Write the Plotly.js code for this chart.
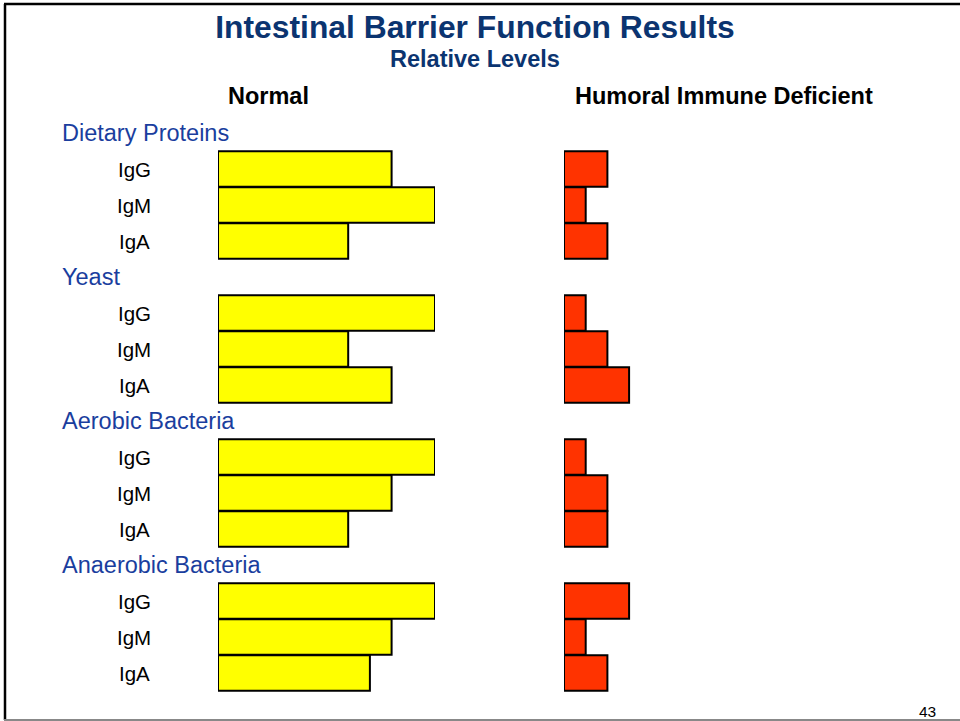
<!DOCTYPE html>
<html>
<head>
<meta charset="utf-8">
<script src="https://cdn.plot.ly/plotly-3.0.1.min.js"></script>
<style>html,body{margin:0;padding:0;background:#fff;}#chart{width:960px;height:721px;}</style>
</head>
<body>
<div id="chart"></div>
<script>
// ---- data ----
const groups = ['Dietary Proteins', 'Yeast', 'Aerobic Bacteria', 'Anaerobic Bacteria'];
const isotypes = ['IgG', 'IgM', 'IgA'];
const normalDietary = [4, 5, 3];
const normalYeast = [5, 3, 4];
const normalAerobic = [5, 4, 3];
const normalAnaerobic = [5, 4, 3.5];
const deficientDietary = [1, 0.5, 1];
const deficientYeast = [0.5, 1, 1.5];
const deficientAerobic = [0.5, 1, 1];
const deficientAnaerobic = [1.5, 0.5, 1];
const columnTitles = ['Normal', 'Humoral Immune Deficient'];
const chartTitle = 'Intestinal Barrier Function Results';
const chartSubtitle = 'Relative Levels';
const pageNumber = '43';

const normalByGroup = [normalDietary, normalYeast, normalAerobic, normalAnaerobic];
const deficientByGroup = [deficientDietary, deficientYeast, deficientAerobic, deficientAnaerobic];

// ---- layout helpers ----
const W = 960, H = 721;
const rowPx = 36;          // pixels per row
const row0Px = 133;        // pixel centre of first row (group label)
const unitPx = 43.4;       // pixels per relative-level unit
const leftA = 218, leftB = 564;
const FONT = 'Arial, "Liberation Sans", sans-serif';
const py = p => 1 - p / H; // pixel -> paper y

const rowPos = (g, i) => g * 4 + i + 1;

const yN = [], xN = [], yD = [], xD = [], names = [];
groups.forEach((g, gi) => {
  isotypes.forEach((iso, ii) => {
    yN.push(rowPos(gi, ii)); xN.push(normalByGroup[gi][ii]);
    yD.push(rowPos(gi, ii)); xD.push(deficientByGroup[gi][ii]);
    names.push(g + ' ' + iso);
  });
});

const traces = [
  {type: 'bar', orientation: 'h', x: xN, y: yN, width: 0.98, xaxis: 'x', yaxis: 'y',
   marker: {color: '#FFFF00', line: {color: '#000', width: 2}}, cliponaxis: false,
   text: names, hoverinfo: 'text+x', textposition: 'none', showlegend: false},
  {type: 'bar', orientation: 'h', x: xD, y: yD, width: 0.98, xaxis: 'x2', yaxis: 'y',
   marker: {color: '#FF3300', line: {color: '#000', width: 2}}, cliponaxis: false,
   text: names, hoverinfo: 'text+x', textposition: 'none', showlegend: false}
];

const annotations = [];
groups.forEach((g, gi) => {
  annotations.push({text: g, xref: 'paper', yref: 'y', x: 60 / W, y: gi * 4,
    xanchor: 'left', yanchor: 'middle', showarrow: false,
    font: {family: FONT, size: 23.5, color: '#1A3E9E'}});
  isotypes.forEach((iso, ii) => {
    annotations.push({text: iso, xref: 'paper', yref: 'y', x: 134 / W, y: rowPos(gi, ii),
      xanchor: 'center', yanchor: 'middle', showarrow: false,
      font: {family: FONT, size: 20.5, color: '#000'}});
  });
});
annotations.push({text: '<b>' + chartSubtitle + '</b>', xref: 'paper', yref: 'paper',
  x: 475 / W, y: py(59), xanchor: 'center', yanchor: 'middle', showarrow: false,
  font: {family: FONT, size: 23.5, color: '#0B3470'}});
annotations.push({text: '<b>' + columnTitles[0] + '</b>', xref: 'paper', yref: 'paper',
  x: 268 / W, y: py(96), xanchor: 'center', yanchor: 'middle', showarrow: false,
  font: {family: FONT, size: 23.5, color: '#000'}});
annotations.push({text: '<b>' + columnTitles[1] + '</b>', xref: 'paper', yref: 'paper',
  x: 724 / W, y: py(96), xanchor: 'center', yanchor: 'middle', showarrow: false,
  font: {family: FONT, size: 23.5, color: '#000'}});
annotations.push({text: pageNumber, xref: 'paper', yref: 'paper',
  x: 927 / W, y: py(711), xanchor: 'center', yanchor: 'middle', showarrow: false,
  font: {family: FONT, size: 15.5, color: '#000'}});

const hidden = {showgrid: false, zeroline: false, showticklabels: false, showline: false, ticks: '', fixedrange: true};

const layout = {
  width: W, height: H,
  margin: {l: 0, r: 0, t: 0, b: 0, pad: 0},
  paper_bgcolor: '#fff', plot_bgcolor: 'rgba(0,0,0,0)',
  bargap: 0,
  title: {text: '<b>' + chartTitle + '</b>', x: 475 / W, xanchor: 'center',
    y: py(27), yanchor: 'middle', yref: 'container',
    font: {family: FONT, size: 31.8, color: '#0B3470'}},
  xaxis: Object.assign({}, hidden, {domain: [leftA / W, (leftA + 5 * unitPx) / W], range: [0, 5], anchor: 'y'}),
  xaxis2: Object.assign({}, hidden, {domain: [leftB / W, (leftB + 2 * unitPx) / W], range: [0, 2], anchor: 'y'}),
  yaxis: Object.assign({}, hidden, {domain: [0, 1],
    range: [(H - row0Px) / rowPx, -row0Px / rowPx]}),
  annotations: annotations,
  shapes: [
    {type: 'line', xref: 'paper', yref: 'paper', x0: 4 / W, x1: 1, y0: py(4), y1: py(4), line: {color: '#000', width: 2.5}},
    {type: 'line', xref: 'paper', yref: 'paper', x0: 5 / W, x1: 5 / W, y0: py(4), y1: py(720), line: {color: '#000', width: 2.5}},
    {type: 'line', xref: 'paper', yref: 'paper', x0: 4 / W, x1: 1, y0: py(720), y1: py(720), line: {color: '#888', width: 2}}
  ]
};

Plotly.newPlot('chart', traces, layout, {displayModeBar: false, staticPlot: true});
</script>
</body>
</html>
